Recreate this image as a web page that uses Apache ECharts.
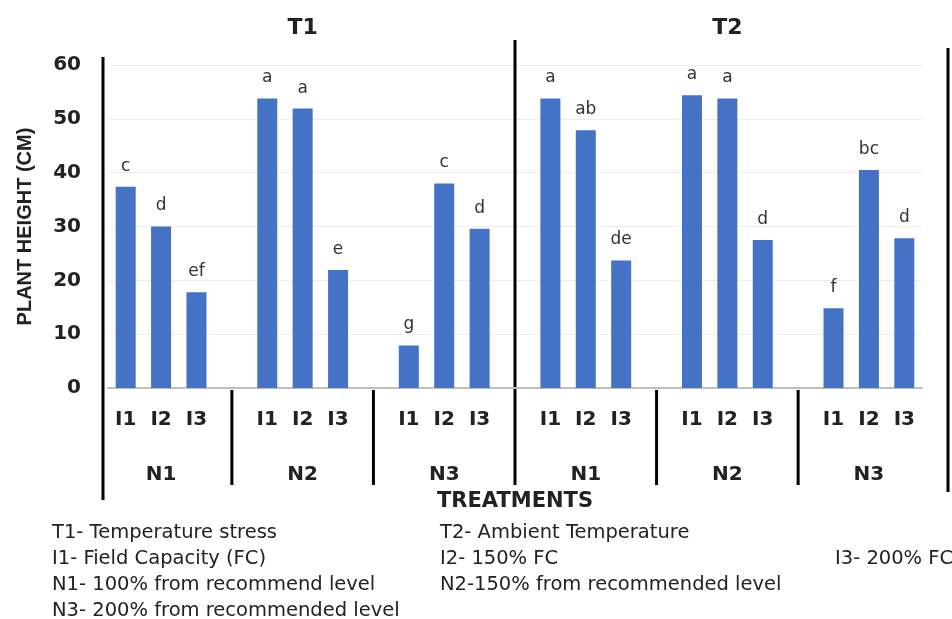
<!DOCTYPE html>
<html>
<head>
<meta charset="utf-8">
<script src="https://cdn.jsdelivr.net/npm/echarts@6/dist/echarts.min.js"></script>
<style>
  html, body { margin: 0; background: #fff; }
  #chart { width: 952px; height: 619px; }
</style>
</head>
<body>
<div id="chart"></div>
<script>
const treatments = ['T1', 'T2']
const nitrogen = ['N1', 'N2', 'N3']
const irrigation = ['I1', 'I2', 'I3']
// plant height (cm), order N1 I1..I3, N2 I1..I3, N3 I1..I3
const t1Height = [37.4, 30.0, 17.8, 53.8, 51.9, 21.9, 7.9, 38.0, 29.6]
const t2Height = [53.8, 47.9, 23.7, 54.4, 53.8, 27.5, 14.8, 40.5, 27.8]
const t1Letters = ['c', 'd', 'ef', 'a', 'a', 'e', 'g', 'c', 'd']
const t2Letters = ['a', 'ab', 'de', 'a', 'a', 'd', 'f', 'bc', 'd']
const notes = [
  ['T1- Temperature stress', 'T2- Ambient Temperature', ''],
  ['I1- Field Capacity (FC)', 'I2- 150% FC', 'I3- 200% FC'],
  ['N1- 100% from recommend level', 'N2-150% from recommended level', ''],
  ['N3- 200% from recommended level', '', '']
]

const boldFont = 'DejaVu Sans'
const narrowFont = "'Liberation Sans Narrow', 'Liberation Sans', sans-serif"

// one slot per bar, one empty slot between N groups
const categories = []
const heights = []
const letters = []
treatments.forEach((t, ti) => {
  const vals = ti === 0 ? t1Height : t2Height
  const lets = ti === 0 ? t1Letters : t2Letters
  nitrogen.forEach((n, ni) => {
    if (categories.length) {
      categories.push('gap' + categories.length)
      heights.push('-')
      letters.push('')
    }
    irrigation.forEach((i, ii) => {
      categories.push(t + '-' + n + '-' + i)
      heights.push(vals[ni * 3 + ii])
      letters.push(lets[ni * 3 + ii])
    })
  })
})

const part = (v, k) => v.indexOf('gap') === 0 ? '' : v.split('-')[k]

const chart = echarts.init(document.getElementById('chart'))
chart.setOption({
  animation: false,
  grid: { left: 108, right: 30, top: 65, bottom: 231 },
  xAxis: [
    {
      type: 'category',
      data: categories,
      axisLine: { lineStyle: { color: '#bfbfbf', width: 2 } },
      axisTick: { show: false },
      axisLabel: {
        interval: 0,
        margin: 22,
        fontFamily: boldFont,
        fontWeight: 'bold',
        fontSize: 20,
        color: '#222',
        formatter: v => part(v, 2)
      },
      name: 'TREATMENTS',
      nameLocation: 'middle',
      nameGap: 103,
      nameTextStyle: { fontFamily: boldFont, fontWeight: 'bold', fontSize: 21, color: '#222' }
    },
    {
      type: 'category',
      data: categories,
      position: 'bottom',
      axisLine: { show: false },
      axisTick: { show: false },
      axisLabel: {
        interval: 0,
        margin: 77,
        fontFamily: boldFont,
        fontWeight: 'bold',
        fontSize: 20,
        color: '#222',
        formatter: v => part(v, 2) === 'I2' ? part(v, 1) : ''
      }
    },
    {
      type: 'category',
      data: categories,
      position: 'top',
      axisLine: { show: false },
      axisTick: { show: false },
      axisLabel: {
        interval: 0,
        margin: 26,
        fontFamily: boldFont,
        fontWeight: 'bold',
        fontSize: 22,
        color: '#222',
        formatter: v => (part(v, 1) === 'N2' && part(v, 2) === 'I2') ? part(v, 0) : ''
      }
    }
  ],
  yAxis: {
    type: 'value',
    min: 0,
    max: 60,
    interval: 10,
    axisLine: { show: false },
    axisTick: { show: false },
    splitLine: { lineStyle: { color: '#ececec', width: 1 } },
    axisLabel: {
      margin: 27,
      fontFamily: boldFont,
      fontWeight: 'bold',
      fontSize: 20,
      color: '#222'
    },
    name: 'PLANT HEIGHT (CM)',
    nameLocation: 'middle',
    nameGap: 73,
    nameRotate: 90,
    nameTextStyle: { fontFamily: narrowFont, fontWeight: 'bold', fontSize: 20, color: '#222' }
  },
  series: [{
    type: 'bar',
    data: heights,
    barWidth: 20,
    itemStyle: { color: '#4472C4' },
    label: {
      show: true,
      position: 'top',
      distance: 12,
      fontFamily: 'DejaVu Sans',
      fontSize: 17,
      color: '#333',
      formatter: p => letters[p.dataIndex]
    }
  }]
})

// frame and separator lines, placed from the axes
const xPx = i => chart.convertToPixel({ xAxisIndex: 0 }, i)
const yPx = v => chart.convertToPixel({ yAxisIndex: 0 }, v)
const slot = xPx(1) - xPx(0)
const left = xPx(0) - slot / 2
const right = xPx(categories.length - 1) + slot / 2
const y0 = yPx(0)
const yTop = yPx(60)
const black = { stroke: '#000', lineWidth: 3 }
const graphics = [
  { type: 'line', shape: { x1: left - 5, y1: yTop - 8, x2: left - 5, y2: y0 + 112 }, style: black },
  { type: 'line', shape: { x1: right + 26, y1: yTop - 17, x2: right + 26, y2: y0 + 104 }, style: black }
]
categories.forEach((c, i) => {
  if (c.indexOf('gap') !== 0) return
  const mid = i === Math.floor(categories.length / 2)
  graphics.push({
    type: 'line',
    shape: { x1: xPx(i), y1: mid ? yTop - 25 : y0 + 2, x2: xPx(i), y2: y0 + 97 },
    style: black
  })
})
const noteX = [52, 440, 835]
notes.forEach((row, r) => {
  row.forEach((txt, c) => {
    if (!txt) return
    graphics.push({
      type: 'text',
      x: noteX[c],
      y: 533 + r * 26,
      style: { text: txt, font: '19.5px DejaVu Sans', fill: '#222', verticalAlign: 'middle' }
    })
  })
})
chart.setOption({ graphic: graphics })
</script>
</body>
</html>
